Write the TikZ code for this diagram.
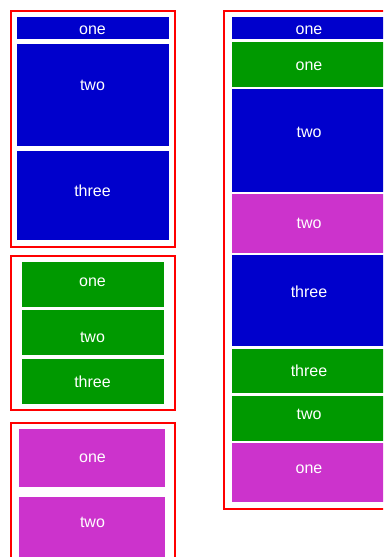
\documentclass[tikz,border=0pt]{standalone}
\usepackage{fontspec}
\setmainfont{Liberation Sans}
\definecolor{cblue}{RGB}{0,0,204}
\definecolor{cgreen}{RGB}{0,153,0}
\definecolor{cmag}{RGB}{204,51,204}
\definecolor{cred}{RGB}{255,0,0}
\begin{document}
\begin{tikzpicture}[x=1pt,y=-1pt,
  frame/.style={draw=cred,line width=2pt},
  cell/.style={anchor=north west,inner sep=0pt,outer sep=0pt,draw=none},
  lbl/.style={anchor=base,inner sep=0pt,text=white,font=\fontsize{16}{19}\selectfont}]
\useasboundingbox (0,0) rectangle (383,557);
\clip (0,0) rectangle (383,557);
% left column frames
\draw[frame] (11,11) rectangle (175,247);
\draw[frame] (11,256) rectangle (175,410);
\draw[frame] (11,423) rectangle (175,570);
% right frame
\draw[frame] (224,11) rectangle (392,509);
% left blue
\node[cell,fill=cblue,minimum width=152pt,minimum height=22pt] (lb1) at (17,17) {};
\node[cell,fill=cblue,minimum width=152pt,minimum height=102pt] (lb2) at (17,44) {};
\node[cell,fill=cblue,minimum width=152pt,minimum height=89pt] (lb3) at (17,151) {};
\node[lbl] (tlb1) at (92.5,34.5) {one};
\node[lbl] (tlb2) at (92.5,90.5) {two};
\node[lbl] (tlb3) at (92.5,196) {three};
% left green
\node[cell,fill=cgreen,minimum width=142pt,minimum height=45pt] (lg1) at (22,262) {};
\node[cell,fill=cgreen,minimum width=142pt,minimum height=45pt] (lg2) at (22,310) {};
\node[cell,fill=cgreen,minimum width=142pt,minimum height=45pt] (lg3) at (22,359) {};
\node[lbl] (tlg1) at (92.5,286.5) {one};
\node[lbl] (tlg2) at (92.5,342.5) {two};
\node[lbl] (tlg3) at (92.5,387) {three};
% left magenta
\node[cell,fill=cmag,minimum width=146pt,minimum height=58pt] (lm1) at (19,429) {};
\node[cell,fill=cmag,minimum width=146pt,minimum height=64pt] (lm2) at (19,497) {};
\node[lbl] (tlm1) at (92.5,462) {one};
\node[lbl] (tlm2) at (92.5,527.5) {two};
% right column
\node[cell,fill=cblue,minimum width=154pt,minimum height=22pt] (r1) at (232,17) {};
\node[cell,fill=cgreen,minimum width=154pt,minimum height=45pt] (r2) at (232,42) {};
\node[cell,fill=cblue,minimum width=154pt,minimum height=103pt] (r3) at (232,89) {};
\node[cell,fill=cmag,minimum width=154pt,minimum height=59pt] (r4) at (232,194) {};
\node[cell,fill=cblue,minimum width=154pt,minimum height=91pt] (r5) at (232,255) {};
\node[cell,fill=cgreen,minimum width=154pt,minimum height=44pt] (r6) at (232,349) {};
\node[cell,fill=cgreen,minimum width=154pt,minimum height=45pt] (r7) at (232,396) {};
\node[cell,fill=cmag,minimum width=154pt,minimum height=59pt] (r8) at (232,443) {};
\node[lbl] (tr1) at (309,34.5) {one};
\node[lbl] (tr2) at (309,70) {one};
\node[lbl] (tr3) at (309,137.5) {two};
\node[lbl] (tr4) at (309,228.5) {two};
\node[lbl] (tr5) at (309,297) {three};
\node[lbl] (tr6) at (309,376) {three};
\node[lbl] (tr7) at (309,419.5) {two};
\node[lbl] (tr8) at (309,473) {one};
\end{tikzpicture}
\end{document}
